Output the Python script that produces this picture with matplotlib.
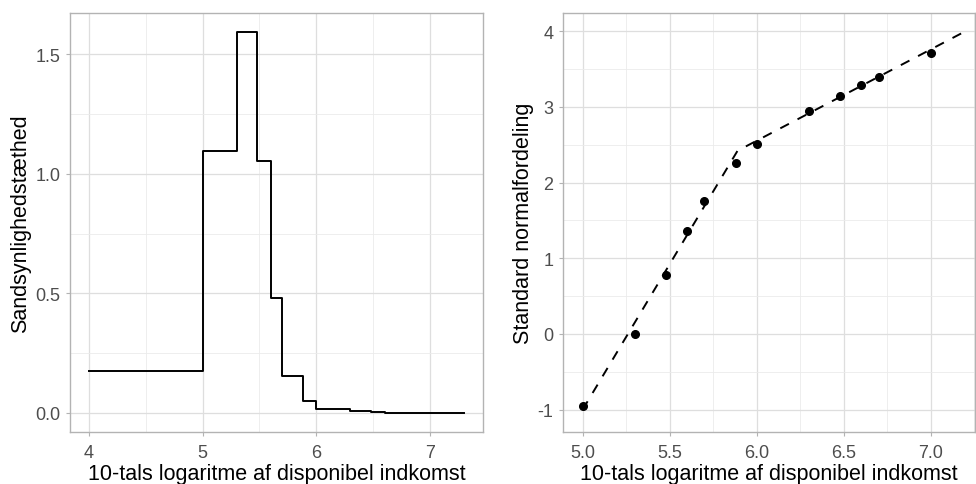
import matplotlib
matplotlib.use("Agg")
import matplotlib.pyplot as plt
from matplotlib.ticker import MultipleLocator, FormatStrFormatter

plt.rcParams['font.family'] = ['Liberation Sans', 'DejaVu Sans']
plt.rcParams['axes.unicode_minus'] = False

# venstre: histogram-tæthed (trappekurve)
breaks = [4, 5, 5.3, 5.48, 5.6, 5.7, 5.88, 6, 6.3, 6.48, 6.6, 6.7, 7, 7.3]
density = [0.174, 1.094, 1.593, 1.054, 0.479, 0.155, 0.049, 0.016, 0.006, 0.003, 0.0015, 0.001, 0.0003]

# højre: QQ-punkter og reference-linje
qq_x = [5.0, 5.3, 5.48, 5.6, 5.7, 5.88, 6.0, 6.3, 6.48, 6.6, 6.7, 7.0]
qq_y = [-0.95, 0.0, 0.784, 1.36, 1.755, 2.256, 2.505, 2.94, 3.145, 3.29, 3.39, 3.71]
line_x = [5.0, 5.89, 7.2]
line_y = [-1.0, 2.42, 4.0]

xlabel = "10-tals logaritme af disponibel indkomst"

W, H = 976, 485
fig = plt.figure(figsize=(W / 100, H / 100), dpi=100)
ax1 = fig.add_axes([70 / W, 1 - 433 / H, 413 / W, 419 / H])
ax2 = fig.add_axes([563.3 / W, 1 - 433 / H, 412 / W, 419 / H])

def style(ax):
    ax.set_facecolor("white")
    for s in ax.spines.values():
        s.set_color("#B3B3B3")
        s.set_linewidth(1.0)
    ax.grid(which="major", color="#DEDEDE", linewidth=0.9)
    ax.grid(which="minor", color="#EBEBEB", linewidth=0.6)
    ax.set_axisbelow(True)
    ax.tick_params(which="major", length=3, color="#B3B3B3", labelsize=13, labelcolor="#4D4D4D")
    ax.tick_params(axis="x", which="major", pad=6)
    ax.tick_params(axis="y", which="major", pad=4)
    ax.tick_params(which="minor", length=0)

ax1.step(breaks, density + [density[-1]], where="post", color="black", linewidth=1.4)
ax1.set_xlim(3.835, 7.465)
ax1.set_ylim(-0.08, 1.672)
ax1.xaxis.set_major_locator(MultipleLocator(1))
ax1.xaxis.set_minor_locator(MultipleLocator(0.5))
ax1.yaxis.set_major_locator(MultipleLocator(0.5))
ax1.yaxis.set_minor_locator(MultipleLocator(0.25))
ax1.yaxis.set_major_formatter(FormatStrFormatter("%.1f"))
style(ax1)
ax1.set_xlabel(xlabel, fontsize=15.5, labelpad=1)
ax1.set_ylabel("Sandsynlighedstæthed", fontsize=15.5, labelpad=3)

ax2.plot(line_x, line_y, color="black", linewidth=1.4, dashes=(5, 5))
ax2.plot(qq_x, qq_y, "o", color="black", markersize=5.5)
ax2.set_xlim(4.889, 7.256)
ax2.set_ylim(-1.295, 4.24)
ax2.xaxis.set_major_locator(MultipleLocator(0.5))
ax2.xaxis.set_minor_locator(MultipleLocator(0.25))
ax2.xaxis.set_major_formatter(FormatStrFormatter("%.1f"))
ax2.yaxis.set_major_locator(MultipleLocator(1))
ax2.yaxis.set_minor_locator(MultipleLocator(0.5))
style(ax2)
ax2.set_xlabel(xlabel, fontsize=15.5, labelpad=1)
ax2.set_ylabel("Standard normalfordeling", fontsize=15.5, labelpad=3)

fig.savefig("out.png", dpi=100)
